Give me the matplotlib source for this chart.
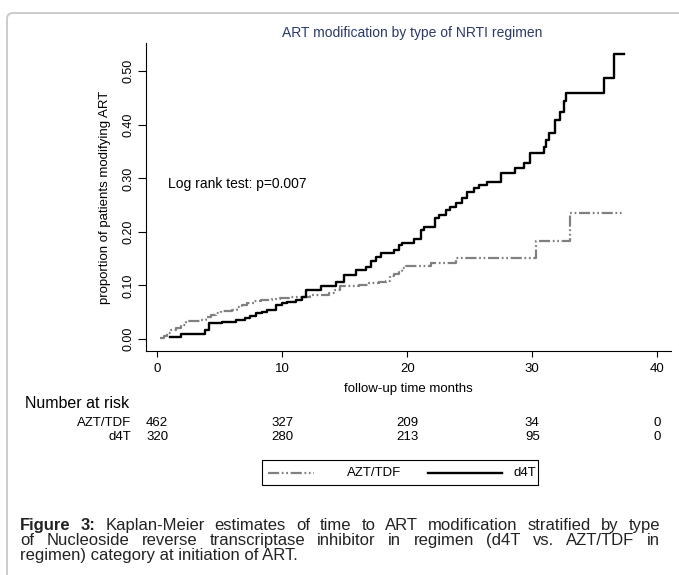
import numpy as np
import matplotlib
matplotlib.use("Agg")
import matplotlib.pyplot as plt
import matplotlib.transforms as mtransforms
from matplotlib.patches import FancyBboxPatch, Rectangle
from matplotlib.ticker import FormatStrFormatter

plt.rcParams['font.family'] = ['Liberation Sans', 'DejaVu Sans']

# === DATA ===
# Kaplan-Meier step points: time (months) where the cumulative proportion jumps
azt_t = [0.2, 0.5, 0.8, 1.1, 1.5, 1.9, 2.3, 3.5, 3.9, 4.3, 4.7, 5.1, 6.0, 6.4, 6.8, 7.2,
         7.7, 8.3, 9.2, 9.8, 10.5, 12.2, 13.7, 14.2, 14.6, 16.1, 16.9, 17.7, 18.3, 18.6,
         18.9, 19.3, 19.6, 19.9, 21.9, 23.9, 30.3, 33.0]
azt_v = [0.002, 0.006, 0.011, 0.016, 0.021, 0.027, 0.033, 0.036, 0.041, 0.045, 0.049,
         0.052, 0.055, 0.059, 0.063, 0.068, 0.071, 0.073, 0.075, 0.077, 0.079, 0.082,
         0.086, 0.092, 0.099, 0.101, 0.104, 0.106, 0.109, 0.117, 0.121, 0.126, 0.132,
         0.136, 0.142, 0.151, 0.183, 0.236]
azt_end = 37.3

d4t_t = [1.0, 1.9, 3.8, 4.1, 5.2, 6.3, 7.0, 7.4, 7.9, 8.4, 8.8, 9.5, 10.0, 10.4, 11.1,
         11.6, 11.9, 13.1, 14.3, 14.9, 15.9, 16.7, 17.1, 17.5, 17.9, 18.9, 19.3, 19.6,
         20.5, 21.1, 21.3, 22.2, 22.5, 23.1, 23.4, 23.9, 24.4, 24.8, 25.3, 25.7, 26.4,
         27.5, 28.6, 29.3, 29.8, 30.9, 31.1, 31.3, 31.8, 32.2, 32.5, 32.7, 35.7, 36.5]
d4t_v = [0.003, 0.009, 0.016, 0.029, 0.031, 0.035, 0.039, 0.043, 0.048, 0.051, 0.055,
         0.064, 0.067, 0.070, 0.073, 0.079, 0.091, 0.099, 0.107, 0.119, 0.129, 0.135,
         0.145, 0.154, 0.160, 0.166, 0.176, 0.180, 0.186, 0.204, 0.209, 0.226, 0.232,
         0.241, 0.247, 0.254, 0.263, 0.275, 0.282, 0.288, 0.294, 0.310, 0.319, 0.328,
         0.347, 0.359, 0.372, 0.384, 0.409, 0.425, 0.444, 0.460, 0.487, 0.533]
d4t_end = 37.3

x_ticks = [0, 10, 20, 30, 40]
y_ticks = [0.0, 0.1, 0.2, 0.3, 0.4, 0.5]
risk_groups = ["AZT/TDF", "d4T"]
risk_azt = [462, 327, 209, 34, 0]
risk_d4t = [320, 280, 213, 95, 0]

title = "ART modification by type of NRTI regimen"
caption_1 = "Kaplan-Meier estimates of time to ART modification stratified by type"
caption_2 = "of Nucleoside reverse transcriptase inhibitor in regimen (d4T vs. AZT/TDF in"
caption_3 = "regimen) category at initiation of ART."

# === STYLE ===
GRAY = "#808080"
AZT_DASH = (5, 1.2, 0.8, 1.2, 0.8, 1.2)
W, H = 679, 575

fig = plt.figure(figsize=(W / 100, H / 100), dpi=100)

# pixel-space overlay for the frame, table and caption
ov = fig.add_axes([0, 0, 1, 1], zorder=-1)
ov.set_xlim(0, W)
ov.set_ylim(H, 0)
ov.axis("off")

ov.add_patch(FancyBboxPatch((7, 13), 900, 800, boxstyle="round,pad=0,rounding_size=6",
                            fill=False, ec="#c8c8c8", lw=1.3))

# main axes, placed in pixels
left, right, top, bottom = 146, 671, 43, 351
ax = fig.add_axes([left / W, 1 - bottom / H, (right - left) / W, (bottom - top) / H])

ax.step(azt_t + [azt_end], azt_v + [azt_v[-1]], where="post", color=GRAY, lw=1.6,
        dashes=AZT_DASH)
ax.step(d4t_t + [d4t_end], d4t_v + [d4t_v[-1]], where="post", color="black", lw=1.7)

ax.set_xlim(-0.9, 41.1)
ax.set_ylim(-0.0224, 0.553)
ax.set_xticks(x_ticks)
ax.set_yticks(y_ticks)
ax.yaxis.set_major_formatter(FormatStrFormatter("%.2f"))
for s in ["top", "right"]:
    ax.spines[s].set_visible(False)
for s in ["left", "bottom"]:
    ax.spines[s].set_linewidth(0.8)
ax.tick_params(axis="x", length=4.5, width=0.8, labelsize=9.5, pad=4)
ax.tick_params(axis="y", length=6, width=0.8, labelsize=9, pad=2, labelrotation=90)
for lab in ax.get_yticklabels():
    lab.set_va("center")

ax.set_ylabel("proportion of patients modifying ART", fontsize=9.5)
ax.yaxis.label.set_va("center")
ax.yaxis.set_label_coords((105 - left) / (right - left), 0.5)
ax.set_xlabel("follow-up time months", fontsize=9.5)
ax.xaxis.label.set_va("center")
ax.xaxis.set_label_coords(0.5, (bottom - 389) / (bottom - top))

ax.text(0.9, 0.29, "Log rank test: p=0.007", fontsize=10, va="center")

ov.text(412, 33, title, fontsize=10, color="#2c3a6b", ha="center", va="center")

# === Number at risk table ===
blend = mtransforms.blended_transform_factory(ax.transData, ov.transData)
ov.text(25, 404, "Number at risk", fontsize=11.5, va="center")
for yy, name, counts in zip([423, 437], risk_groups, [risk_azt, risk_d4t]):
    ov.text(131.7, yy, name, fontsize=9.5, ha="right", va="center")
    for xt, n in zip(x_ticks, counts):
        ov.text(xt, yy, str(n), fontsize=9.5, ha="center", va="center", transform=blend)

# === Legend box ===
ov.add_patch(Rectangle((262, 460), 276, 25, fill=False, ec="black", lw=0.8))
ov.plot([268, 314], [472.5, 472.5], color=GRAY, lw=1.6, dashes=AZT_DASH)
ov.text(347, 472.5, "AZT/TDF", fontsize=9.5, va="center")
ov.plot([428, 502], [472.5, 472.5], color="black", lw=1.7)
ov.text(513, 472.5, "d4T", fontsize=9.5, va="center")

# === Caption (justified like the web page) ===
renderer = fig.canvas.get_renderer()
cap_x0, cap_x1 = 20, 660

# pick the size at which the first line fills the column naturally
probe = ov.text(0, 0, "Figure 3: " + caption_1, fontsize=10, fontweight="normal")
cap_size = 10 * (cap_x1 - cap_x0 - 8) / probe.get_window_extent(renderer=renderer).width
cap_size = min(cap_size, 12)
probe.remove()


def put_line(words, y, x0, x1=None, size=11):
    texts = [ov.text(x0, y, w, fontsize=size, fontweight=wt, va="baseline", color="#222222")
             for w, wt in words]
    widths = [t.get_window_extent(renderer=renderer).width for t in texts]
    if x1 is None:
        gap = size * 0.278 * 100 / 72
    else:
        gap = (x1 - x0 - sum(widths)) / (len(words) - 1)
    x = x0
    for t, w in zip(texts, widths):
        t.set_x(x)
        x += w + gap


line1 = [("Figure", "bold"), ("3:", "bold")] + [(w, "normal") for w in caption_1.split()]
line2 = [(w, "normal") for w in caption_2.split()]
put_line(line1, 530, cap_x0, cap_x1, cap_size)
put_line(line2, 545, cap_x0, cap_x1, cap_size)
ov.text(cap_x0, 560, caption_3, fontsize=cap_size, va="baseline", color="#222222")

fig.savefig("out.png", dpi=100)
